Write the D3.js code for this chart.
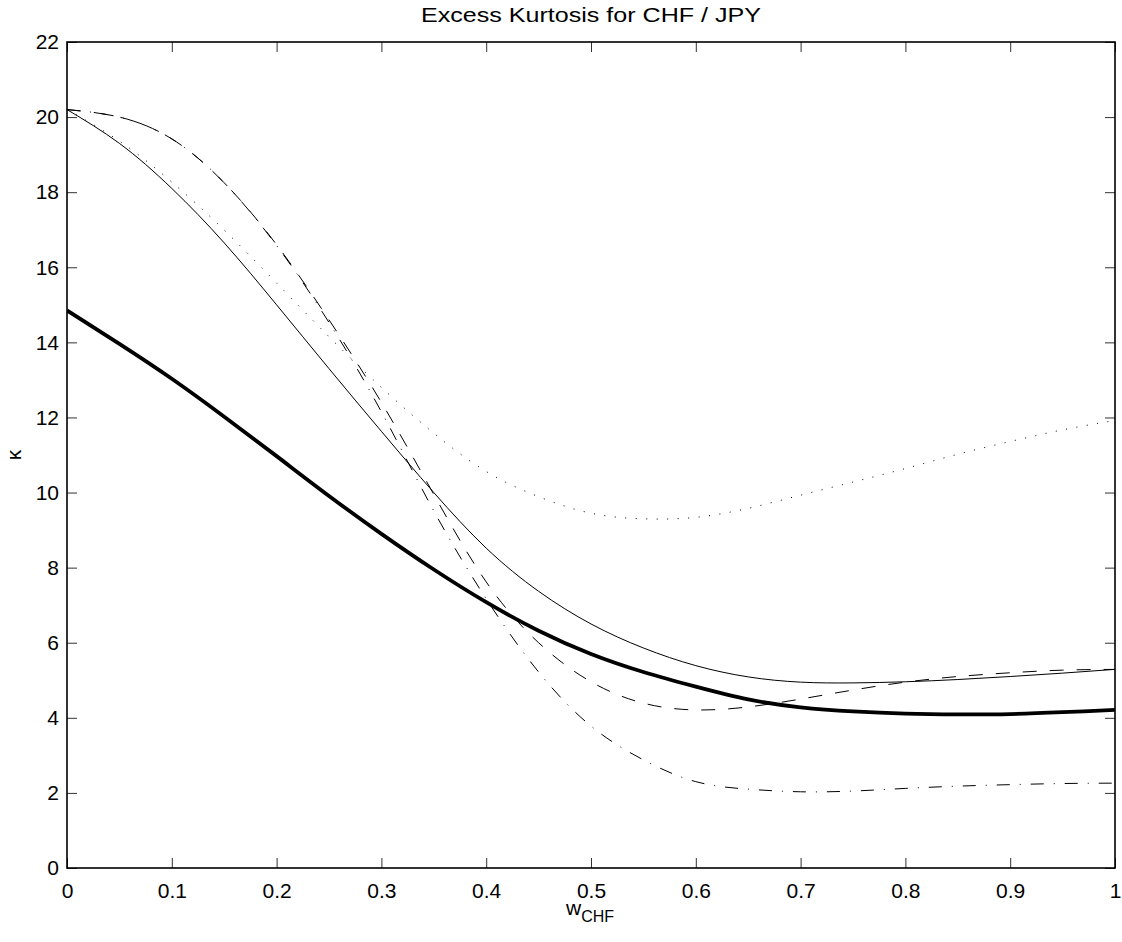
<!DOCTYPE html>
<html>
<head>
<meta charset="utf-8">
<script src="https://cdn.jsdelivr.net/npm/d3@7"></script>
<style>
  html, body { margin: 0; padding: 0; background: #fff; }
  svg { display: block; font-family: "Liberation Sans", Arial, Helvetica, sans-serif; }
</style>
</head>
<body>
<svg id="chart" width="1122" height="942"></svg>
<script>
// ---- data ----
const titleText = "Excess Kurtosis for CHF / JPY";
const xTicks = [0, 0.1, 0.2, 0.3, 0.4, 0.5, 0.6, 0.7, 0.8, 0.9, 1];
const xTickLabels = ["0", "0.1", "0.2", "0.3", "0.4", "0.5", "0.6", "0.7", "0.8", "0.9", "1"];
const yTicks = [0, 2, 4, 6, 8, 10, 12, 14, 16, 18, 20, 22];
const yTickLabels = ["0", "2", "4", "6", "8", "10", "12", "14", "16", "18", "20", "22"];

const w = [0, 0.05, 0.10, 0.15, 0.20, 0.25, 0.30, 0.35, 0.40, 0.45, 0.50,
           0.55, 0.60, 0.65, 0.70, 0.75, 0.80, 0.85, 0.90, 0.95, 1.00];

const kurtThick   = [14.85, 13.96, 13.03, 12.02, 10.97, 9.91, 8.90, 7.95, 7.08, 6.32, 5.70,
                     5.22, 4.83, 4.49, 4.28, 4.17, 4.11, 4.09, 4.10, 4.15, 4.21];
const kurtThin    = [20.20, 19.30, 18.10, 16.65, 15.00, 13.30, 11.63, 10.00, 8.52, 7.37, 6.50,
                     5.86, 5.39, 5.09, 4.95, 4.93, 4.96, 5.02, 5.10, 5.19, 5.29];
const kurtDashed  = [20.20, 20.00, 19.42, 18.25, 16.60, 14.60, 12.40, 9.95, 7.62, 6.00, 4.96,
                     4.39, 4.21, 4.29, 4.50, 4.74, 4.95, 5.10, 5.20, 5.27, 5.29];
const kurtDotted  = [20.20, 19.36, 18.27, 16.99, 15.58, 14.15, 12.80, 11.58, 10.56, 9.89, 9.45,
                     9.30, 9.34, 9.58, 9.93, 10.28, 10.64, 11.02, 11.36, 11.67, 11.92];
const kurtDashDot = [20.20, 20.00, 19.42, 18.25, 16.58, 14.53, 12.15, 9.51, 7.17, 5.22, 3.78,
                     2.88, 2.30, 2.10, 2.03, 2.05, 2.12, 2.18, 2.22, 2.25, 2.26];

// ---- layout ----
const svg = d3.select("#chart");
const L = 67, R = 1115, T = 42, B = 868;
const x = d3.scaleLinear().domain([0, 1]).range([L, R]);
const y = d3.scaleLinear().domain([0, 22]).range([B, T]);
const FONT = '"Liberation Sans", Arial, Helvetica, sans-serif';

const series = [
  { values: kurtDotted,  width: 1,   dash: "1,9.5" },
  { values: kurtDashDot, width: 1,   dash: "13,10,1,10" },
  { values: kurtDashed,  width: 1,   dash: "14,13" },
  { values: kurtThin,    width: 1,   dash: null },
  { values: kurtThick,   width: 3.8, dash: null }
];

const line = d3.line()
  .x((d, i) => x(w[i]))
  .y(d => y(d))
  .curve(d3.curveNatural);

const g = svg.append("g");
g.append("defs").append("clipPath").attr("id", "clip")
  .append("rect").attr("x", L).attr("y", T).attr("width", R - L).attr("height", B - T);

const plot = g.append("g").attr("clip-path", "url(#clip)");
series.forEach(s => {
  plot.append("path")
    .attr("d", line(s.values))
    .attr("fill", "none")
    .attr("stroke", "#000")
    .attr("stroke-width", s.width)
    .attr("stroke-dasharray", s.dash)
    .attr("stroke-linejoin", "round");
});

// axes: inward ticks on all four sides
const tickLen = 10;
const xAxisB = d3.axisBottom(x).tickValues(xTicks).tickFormat((d, i) => xTickLabels[i])
  .tickSizeInner(-tickLen).tickSizeOuter(0).tickPadding(15);
const xAxisT = d3.axisTop(x).tickValues(xTicks).tickFormat("").tickSizeInner(-tickLen).tickSizeOuter(0);
const yAxisL = d3.axisLeft(y).tickValues(yTicks).tickFormat((d, i) => yTickLabels[i])
  .tickSizeInner(-tickLen).tickSizeOuter(0).tickPadding(8);
const yAxisR = d3.axisRight(y).tickValues(yTicks).tickFormat("").tickSizeInner(-tickLen).tickSizeOuter(0);

function styleAxis(sel) {
  sel.select(".domain").remove();
  sel.selectAll(".tick line").attr("stroke", "#333").attr("stroke-width", 1);
  sel.selectAll(".tick text").attr("fill", "#000").style("font-size", "21px").style("font-family", FONT);
}
g.append("g").attr("transform", `translate(0,${B})`).call(xAxisB).call(styleAxis);
g.append("g").attr("transform", `translate(0,${T})`).call(xAxisT).call(styleAxis);
g.append("g").attr("transform", `translate(${L},0)`).call(yAxisL).call(styleAxis);
g.append("g").attr("transform", `translate(${R},0)`).call(yAxisR).call(styleAxis);

// frame
g.append("rect").attr("x", L).attr("y", T).attr("width", R - L).attr("height", B - T)
  .attr("fill", "none").attr("stroke", "#000").attr("stroke-width", 1.6);

// title
svg.append("text").attr("x", (L + R) / 2).attr("y", 22).attr("text-anchor", "middle")
  .attr("textLength", 340).attr("lengthAdjust", "spacingAndGlyphs")
  .style("font-size", "20px").text(titleText);

// x label: w_CHF
const xl = svg.append("text").attr("x", 566).attr("y", 915).attr("text-anchor", "start")
  .style("font-size", "21px");
xl.append("tspan").text("w");
xl.append("tspan").attr("dy", 7).style("font-size", "16px").text("CHF");

// y label: kappa
svg.append("text").attr("transform", `translate(21,${(T + B) / 2}) rotate(-90)`)
  .attr("text-anchor", "middle").style("font-size", "21px").text("κ");
</script>
</body>
</html>
